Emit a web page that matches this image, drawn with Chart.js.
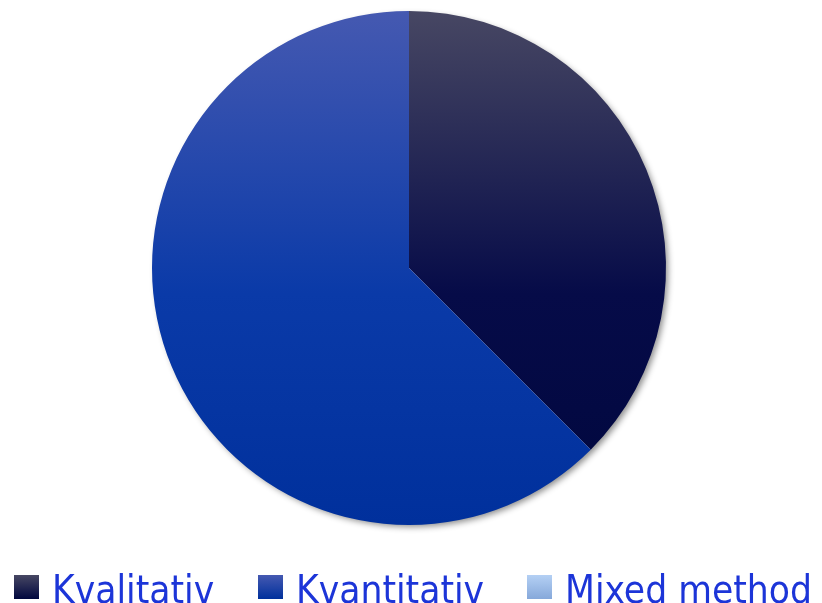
<!DOCTYPE html>
<html>
<head>
<meta charset="utf-8">
<script src="https://cdn.jsdelivr.net/npm/chart.js@4.4.1/dist/chart.umd.min.js"></script>
<style>
  html, body { margin: 0; padding: 0; background: #fff; overflow: hidden; }
  #wrap { position: relative; width: 822px; height: 603px; overflow: hidden; }
  #chart { position: absolute; left: 0; top: 0; }
  #legend { position: absolute; left: 0; top: 566px; width: 822px; height: 60px; }
  .item { position: absolute; top: 0; white-space: nowrap; }
  .box { position: absolute; top: 9px; width: 25px; height: 24px; }
  .txt { position: absolute; top: 0; font-family: "Liberation Sans Narrow", "DejaVu Sans Condensed", sans-serif;
         font-size: 38.5px; line-height: 48px; color: #1c35d8; }
</style>
</head>
<body>
<div id="wrap">
  <canvas id="chart" width="822" height="603"></canvas>
  <div id="legend"></div>
</div>
<script>
// DATA
const labels = ["Kvalitativ", "Kvantitativ", "Mixed method"];
const values = [37.5, 62.5, 0];
// gradient stops per slice (top -> bottom)
const topColors = ["#474763", "#4559b1", "#b4d0f4"];
const midColors = ["#060b48", "#0a3aa8", "#9dbde9"];
const botColors = ["#00073e", "#00309c", "#86a8da"];
const legendX = [14, 258, 527];

const canvasChart = document.getElementById("chart");
const legendBox = document.getElementById("legend");

function makeGradient(ctx, area, i) {
  const g = ctx.createLinearGradient(0, area.top, 0, area.bottom);
  g.addColorStop(0, topColors[i]);
  g.addColorStop(0.55, midColors[i]);
  g.addColorStop(1, botColors[i]);
  return g;
}

// sombra bajo el pastel
const shadowPlugin = {
  id: "pieShadow",
  beforeDatasetsDraw(chart) {
    const arc = chart.getDatasetMeta(0).data[0];
    if (!arc) return;
    const ctx = chart.ctx;
    ctx.save();
    ctx.shadowColor = "rgba(0,0,0,0.45)";
    ctx.shadowBlur = 6;
    ctx.shadowOffsetX = 3;
    ctx.shadowOffsetY = 3;
    ctx.fillStyle = "#ffffff";
    ctx.beginPath();
    ctx.arc(arc.x, arc.y, arc.outerRadius - 1, 0, Math.PI * 2);
    ctx.fill();
    ctx.restore();
  }
};

new Chart(canvasChart, {
  type: "pie",
  data: {
    labels: labels,
    datasets: [{
      data: values,
      borderWidth: 0,
      backgroundColor: (c) => {
        const area = c.chart.chartArea;
        if (!area) return midColors[c.dataIndex];
        return makeGradient(c.chart.ctx, area, c.dataIndex);
      }
    }]
  },
  options: {
    responsive: false,
    animation: false,
    layout: { padding: { top: 11, bottom: 78, left: 0, right: 4 } },
    plugins: {
      legend: { display: false },
      tooltip: { enabled: false }
    }
  },
  plugins: [shadowPlugin]
});

// LEYENDA
let html = "";
labels.forEach((label, i) => {
  html += `<div class="item" style="left:${legendX[i]}px">
    <div class="box" style="left:0;background:linear-gradient(${topColors[i]}, ${botColors[i]})"></div>
    <div class="txt" style="left:38px">${label}</div>
  </div>`;
});
legendBox.innerHTML = html;
</script>
</body>
</html>
